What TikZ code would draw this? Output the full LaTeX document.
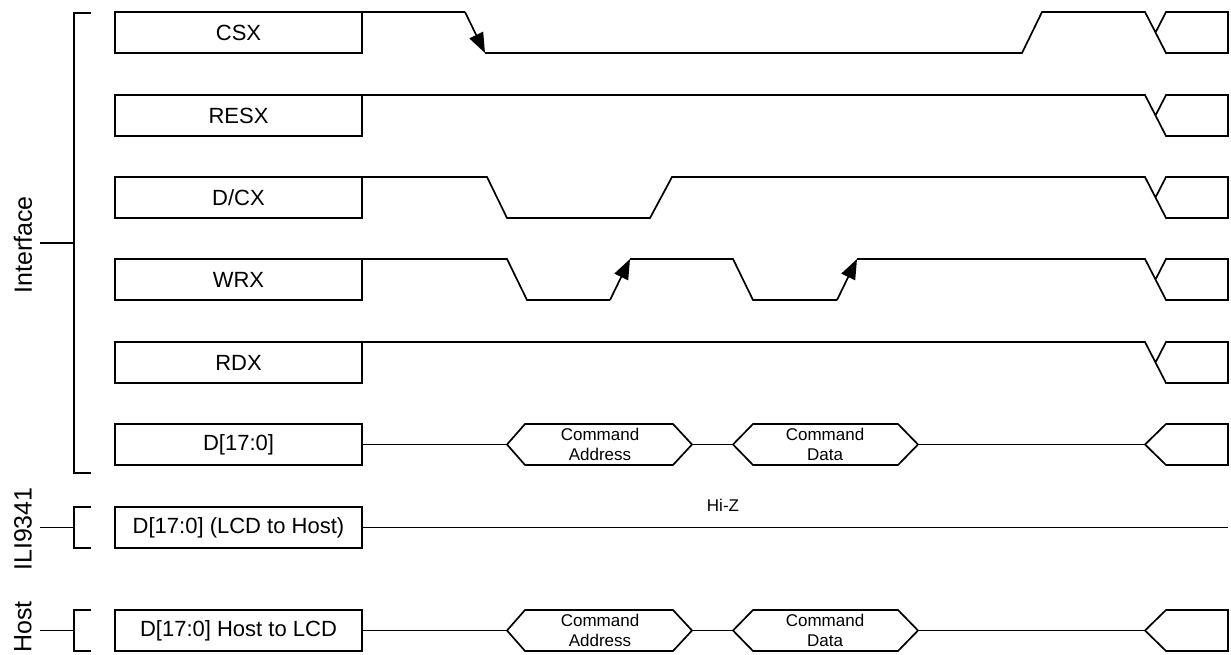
\documentclass[tikz,border=0pt]{standalone}
\usepackage{fontspec}
\setmainfont{Liberation Sans}
\usetikzlibrary{arrows.meta}
\begin{document}
\begin{tikzpicture}[x=1pt,y=-1pt,
  sig/.style={line width=1.7pt, line join=miter},
  sigbox/.style={draw, line width=1.6pt, minimum width=247pt, minimum height=41pt, inner sep=0pt, outer sep=0pt, anchor=north west, font=\fontsize{22}{26}\selectfont},
  grplabel/.style={rotate=90, font=\fontsize{25}{30}\selectfont, inner sep=0pt},
  small/.style={font=\fontsize{17}{19.5}\selectfont, align=center, inner sep=0pt},
  edgearrow/.style={sig, -{Triangle[length=20pt,width=15pt]}}
]
\useasboundingbox (0,0) rectangle (1231,655);

% signal name boxes
\node[sigbox] (csx)  at (115,12)  {CSX};
\node[sigbox] (resx) at (115,95)  {RESX};
\node[sigbox] (dcx)  at (115,177) {D/CX};
\node[sigbox] (wrx)  at (115,259) {WRX};
\node[sigbox] (rdx)  at (115,342) {RDX};
\node[sigbox] (dbus) at (115,424) {D[17:0]};
\node[sigbox] (lcd)  at (115,507) {D[17:0] (LCD to Host)};
\node[sigbox] (host) at (115,610) {D[17:0] Host to LCD};

% group labels and brackets
\node[grplabel] (lblif)   at (23,245) {Interface};
\node[grplabel] (lblili)  at (23,529) {ILI9341};
\node[grplabel] (lblhost) at (23,627) {Host};

\draw[sig] (91,13) -- (74,13) -- (74,473) -- (91,473);
\draw[sig] (40,243) -- (74,243);
\draw[sig] (91,507) -- (74,507) -- (74,548) -- (91,548);
\draw[sig] (40,527.5) -- (74,527.5);
\draw[sig] (91,610) -- (74,610) -- (74,651) -- (91,651);
\draw[sig] (40,630.5) -- (74,630.5);

% CSX
\draw[sig] (csx.north east) -- (465,12);
\draw[edgearrow] (465,12) -- (485,53);
\draw[sig] (485,53) -- (1022,53) -- (1042,12) -- (1145,12) -- (1166,53) -- (1228,53) -- (1228,12) -- (1166,12) -- (1155.5,32.5);

% RESX
\draw[sig] (resx.north east) -- (1145,95) -- (1166,136) -- (1228,136) -- (1228,95) -- (1166,95) -- (1155.5,115.5);

% D/CX
\draw[sig] (dcx.north east) -- (487,177) -- (507,218) -- (650,218) -- (672,177) -- (1145,177) -- (1166,218) -- (1228,218) -- (1228,177) -- (1166,177) -- (1155.5,197.5);

% WRX
\draw[sig] (wrx.north east) -- (507,259) -- (527,300) -- (610,300);
\draw[edgearrow] (610,300) -- (630,259);
\draw[sig] (630,259) -- (733,259) -- (753,300) -- (837,300);
\draw[edgearrow] (837,300) -- (857,259);
\draw[sig] (857,259) -- (1145,259) -- (1166,300) -- (1228,300) -- (1228,259) -- (1166,259) -- (1155.5,279.5);

% RDX
\draw[sig] (rdx.north east) -- (1145,342) -- (1166,383) -- (1228,383) -- (1228,342) -- (1166,342) -- (1155.5,362.5);

% D[17:0] bus
\draw[sig] (dbus.east) -- (507,444.5);
\draw[sig] (507,444.5) -- (525,424) -- (673,424) -- (692,444.5) -- (673,465) -- (525,465) -- cycle;
\node[small] (da1) at (600,444.5) {Command\\Address};
\draw[sig] (692,444.5) -- (733,444.5);
\draw[sig] (733,444.5) -- (753,424) -- (898,424) -- (918,444.5) -- (898,465) -- (753,465) -- cycle;
\node[small] (dd1) at (825,444.5) {Command\\Data};
\draw[sig] (918,444.5) -- (1145,444.5);
\draw[sig] (1145,444.5) -- (1166,424) -- (1228,424) -- (1228,465) -- (1166,465) -- cycle;

% LCD to Host (Hi-Z)
\draw[sig] (lcd.east) -- ++(866,0);
\node[small] (hiz) at (723,505.5) {Hi-Z};

% Host to LCD bus
\draw[sig] (host.east) -- (507,630.5);
\draw[sig] (507,630.5) -- (525,610) -- (673,610) -- (692,630.5) -- (673,651) -- (525,651) -- cycle;
\node[small] (ha1) at (600,630.5) {Command\\Address};
\draw[sig] (692,630.5) -- (733,630.5);
\draw[sig] (733,630.5) -- (753,610) -- (898,610) -- (918,630.5) -- (898,651) -- (753,651) -- cycle;
\node[small] (hd1) at (825,630.5) {Command\\Data};
\draw[sig] (918,630.5) -- (1145,630.5);
\draw[sig] (1145,630.5) -- (1166,610) -- (1228,610) -- (1228,651) -- (1166,651) -- cycle;
\end{tikzpicture}
\end{document}
